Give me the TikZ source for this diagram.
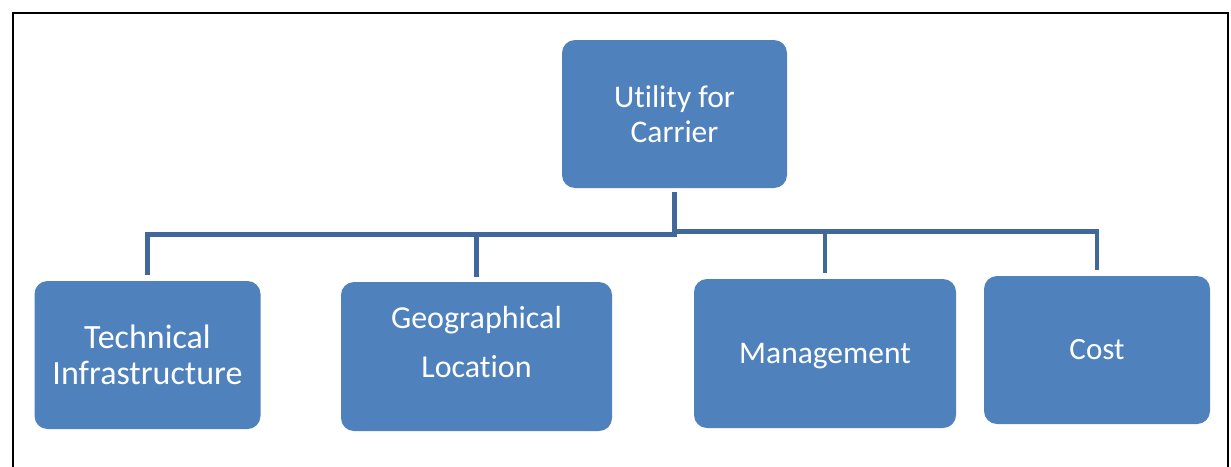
\documentclass[tikz,border=0pt]{standalone}
\usepackage{fontspec}
\setmainfont{Carlito}[Ligatures=NoCommon]
\definecolor{boxblue}{HTML}{4F81BD}
\definecolor{linkblue}{HTML}{41689B}
\begin{document}
\begin{tikzpicture}[x=1pt,y=-1pt,
  box/.style={fill=boxblue, rounded corners=13pt, text=white, align=center, inner sep=0pt,
    font=\fontsize{31.5}{35}\selectfont},
  lbl/.style={text=white, align=center, inner sep=0pt},
  conn/.style={draw=linkblue, line width=4.6pt},
  frame/.style={draw=black, line width=2pt}]
\useasboundingbox (0,0) rectangle (1231,466);
% frame
\draw[frame] (13,467) -- (13,12.5) -- (1228,12.5) -- (1228,467);
% boxes
\node[box, minimum width=225pt, minimum height=148pt] (top) at (674.5,114) {Utility for\\Carrier};
\node[box, minimum width=226pt, minimum height=148pt, font=\fontsize{34}{36}\selectfont] (tech) at (147.5,355) {Technical\\Infrastructure};
\node[box, minimum width=271pt, minimum height=149pt] (geo) at (476.5,356.5) {};
\node[lbl, font=\fontsize{32}{49}\selectfont] (geotext) at ([yshift=14.5pt]geo.center) {Geographical\\Location};
\node[box, minimum width=262pt, minimum height=149pt, text depth=0pt] (mgmt) at (825,353.5) {Management};
\node[box, minimum width=226pt, minimum height=148pt, font=\fontsize{31}{35}\selectfont] (cost) at (1097,350) {Cost};
% connectors
\coordinate (busL) at ([yshift=-46.5pt]top.south);
\coordinate (busR) at ([yshift=-43.5pt]top.south);
\draw[conn] ([yshift=-4pt]top.south) -- ([yshift=-2pt]busL);
\draw[conn] ([yshift=6pt]tech.north) |- ([xshift=2pt]busL);
\draw[conn] ([yshift=5pt]geo.north) -- (geo.north |- busL);
\draw[conn] ([yshift=6pt]cost.north) |- ([xshift=-2pt]busR);
\draw[conn] ([yshift=6pt]mgmt.north) -- (mgmt.north |- busR);
\end{tikzpicture}
\end{document}
